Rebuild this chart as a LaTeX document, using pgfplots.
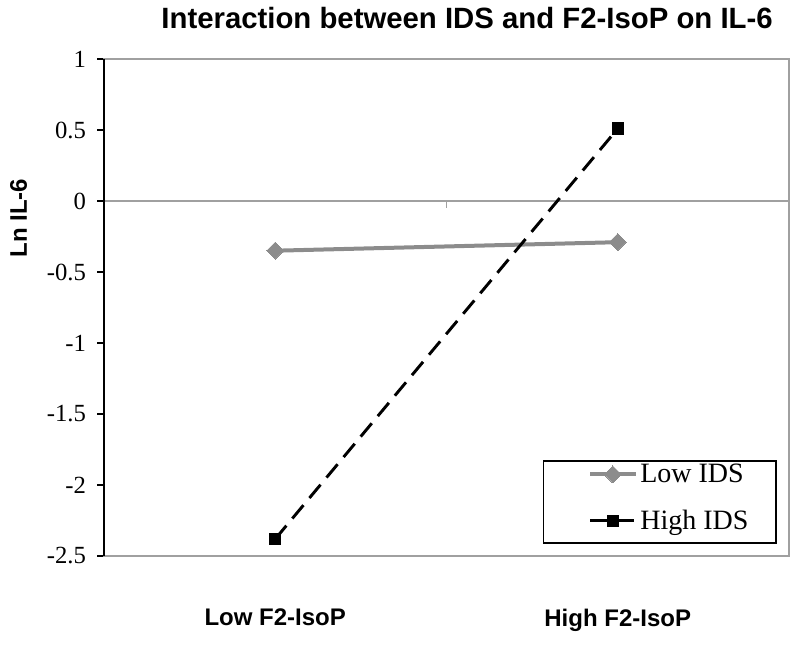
\documentclass[border=0pt]{standalone}
\usepackage{pgfplots}
\pgfplotsset{compat=1.18}
\usepackage{fontspec}
\setmainfont{Liberation Serif}
\setsansfont{Liberation Sans}
\definecolor{lowgray}{HTML}{8C8C8C}
\definecolor{framegray}{HTML}{A0A0A0}
\newcommand\serifbig{\rmfamily\mdseries\fontsize{21}{24}\selectfont}
\newcommand\serifticks{\rmfamily\mdseries\fontsize{18.5}{22}\selectfont}
\begin{document}
\begin{tikzpicture}
\useasboundingbox (-78pt,-66pt) rectangle (522pt,417pt);
\begin{axis}[
  at={(0,0)}, anchor=south west,
  scale only axis,
  width=513.75pt, height=372.75pt,
  xmin=-0.5, xmax=1.5, ymin=-2.5, ymax=1,
  clip=false,
  axis line style={draw=framegray, line width=1.3pt},
  xtick={0,1}, xticklabels={Low F2-IsoP, High F2-IsoP},
  x tick style={draw=none},
  xticklabel style={font=\sffamily\bfseries\fontsize{18}{21}\selectfont, yshift=-31pt},
  ytick={-2.5,-2,-1.5,-1,-0.5,0,0.5,1},
  yticklabels={-2.5,-2,-1.5,-1,-0.5,0,0.5,1},
  ytick pos=left,
  tick align=outside, major tick length=5pt,
  y tick style={black, line width=0.8pt},
  yticklabel style={font=\serifticks, xshift=-5pt},
  every axis y label/.style={at={(rel axis cs:0,0.68)}, xshift=-64pt, rotate=90, anchor=center,
     font=\sffamily\bfseries\fontsize{18}{21}\selectfont},
  ylabel={Ln IL-6},
  title={Interaction between IDS and F2-IsoP on IL-6},
  title style={at={(rel axis cs:0.53,1)}, anchor=base, yshift=17pt,
     font=\sffamily\bfseries\fontsize{22}{26}\selectfont},
  legend style={draw=none, fill=none, inner sep=0pt, at={(rel axis cs:0.7066,0.117)}, anchor=west,
     font=\serifbig, row sep=15pt, nodes={font=\serifbig}},
  legend cell align=left,
  legend image code/.code={\draw[mark repeat=2,mark phase=2,#1] plot coordinates {(0pt,0pt) (17pt,0pt) (34pt,0pt)};},
]
\draw[framegray, line width=1.3pt] (axis cs:-0.5,0) -- (axis cs:1.5,0);
\draw[framegray, line width=1pt] (axis cs:0.5,0) -- ([yshift=-5pt]axis cs:0.5,0);
\draw[black, line width=1pt] (rel axis cs:0,0) -- (rel axis cs:0,1);
\draw[black, line width=1pt] (rel axis cs:0.642,0.026) rectangle (rel axis cs:0.981,0.191);
\addplot[lowgray, line width=3pt, mark=square*, mark size=4.5pt, mark options={rotate=45, solid, fill=lowgray, draw=lowgray, line width=0pt}]
  coordinates {(0,-0.35) (1,-0.29)};
\addlegendentry{Low IDS}
\addplot[black, line width=2.2pt, dash pattern=on 13pt off 7pt, mark=square*, mark size=4.3pt, mark options={solid, fill=black, line width=0pt}]
  coordinates {(0,-2.38) (1,0.51)};
\addlegendentry{High IDS}
\end{axis}
\end{tikzpicture}
\end{document}
